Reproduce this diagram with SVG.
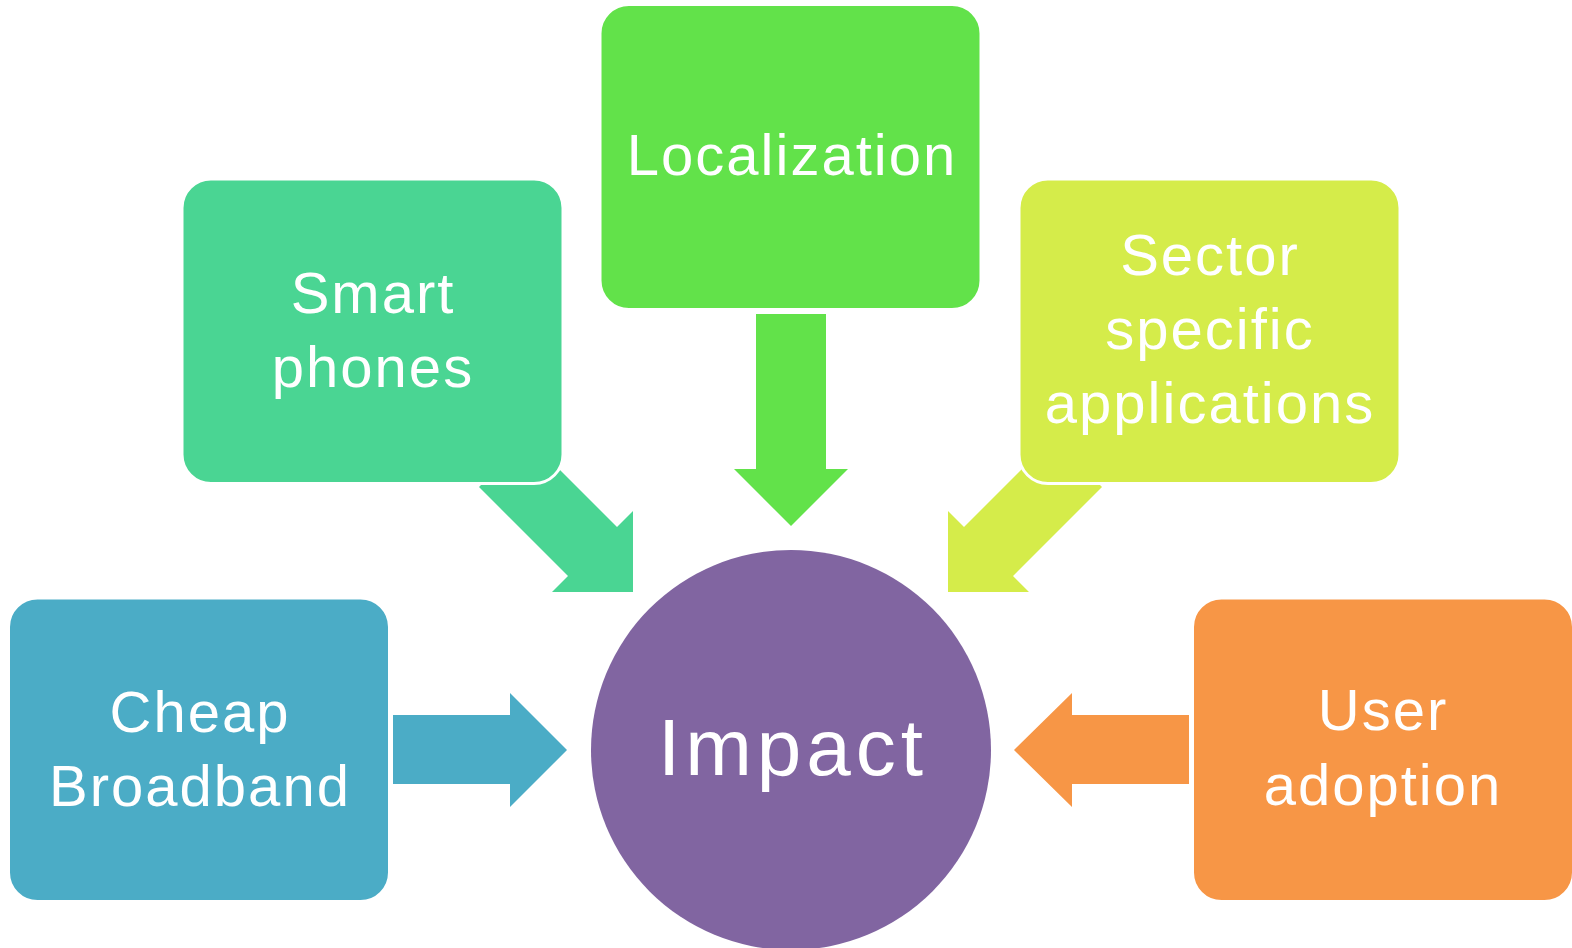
<svg xmlns="http://www.w3.org/2000/svg" width="1572" height="948" viewBox="0 0 1572 948">
<style>
.box{stroke:#fff;stroke-width:3}
.t{font-family:"Liberation Sans",Arial,sans-serif;font-size:58px;fill:#fff;text-anchor:middle;letter-spacing:2px}
</style>
<rect width="1572" height="948" fill="#fff"/>
<g id="connectors">
<polygon fill="#62E24A" points="756,314 826,314 826,469 848,469 791,526 734,469 756,469"/>
<polygon fill="#4AD593" points="528,438 617,527 633,511 633,592 552,592 568,576 479,487"/>
<polygon fill="#D5EC4A" points="1053,438 964,527 948,511 948,592 1029,592 1013,576 1102,487"/>
<polygon fill="#4BACC6" points="393,715 510,715 510,693 567,750 510,807 510,784 393,784"/>
<polygon fill="#F79646" points="1189,715 1072,715 1072,693 1014,750 1072,807 1072,784 1189,784"/>
</g>
<g id="localization">
<rect class="box" x="600" y="4.5" width="381" height="305" rx="29" fill="#62E24A"/>
<text class="t" x="792" y="175">Localization</text>
</g>
<g id="smart-phones">
<rect class="box" x="182" y="179" width="381" height="304.5" rx="29" fill="#4AD593"/>
<text class="t" x="373" y="313">Smart</text>
<text class="t" x="373" y="387">phones</text>
</g>
<g id="sector">
<rect class="box" x="1019" y="179" width="381" height="304.5" rx="29" fill="#D5EC4A"/>
<text class="t" x="1210" y="275">Sector</text>
<text class="t" x="1210" y="349">specific</text>
<text class="t" x="1210" y="423">applications</text>
</g>
<g id="cheap-broadband">
<rect class="box" x="8.5" y="598" width="381" height="303.5" rx="29" fill="#4BACC6"/>
<text class="t" x="200" y="732">Cheap</text>
<text class="t" x="200" y="806">Broadband</text>
</g>
<g id="user-adoption">
<rect class="box" x="1192.5" y="598" width="381" height="303.5" rx="29" fill="#F79646"/>
<text class="t" x="1383" y="730">User</text>
<text class="t" x="1383" y="805">adoption</text>
</g>
<g id="impact">
<circle cx="791" cy="750" r="200" fill="#8165A1"/>
<text class="t" x="793" y="775" style="font-size:80px;letter-spacing:5px">Impact</text>
</g>
</svg>
